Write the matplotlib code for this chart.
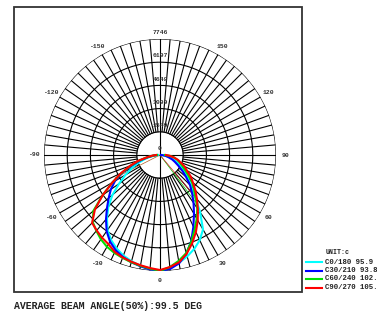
import numpy as np
import matplotlib
matplotlib.use("Agg")
import matplotlib.pyplot as plt
from matplotlib.patches import Rectangle

# --- DATA (cd), gamma 0..90 step 5 ---
GAMMA = list(range(0, 95, 5))
C0 = [7746, 7579, 7312, 7012, 6678, 6277, 5743, 4675, 3673, 2938, 2471, 2070, 1670, 1336, 1035, 735, 467, 267, 134]
C180 = [7746, 7646, 7513, 7346, 7145, 6878, 6544, 6110, 5509, 4875, 4140, 3339, 2671, 2070, 1536, 1068, 668, 334, 134]
C30 = [7746, 7646, 7346, 6812, 6110, 5276, 4541, 3907, 3339, 2838, 2271, 1803, 1402, 1102, 868, 601, 401, 200, 67]
C210 = [7746, 7680, 7546, 7413, 7246, 7012, 6678, 6211, 5610, 5009, 4474, 4007, 3473, 2738, 1937, 1336, 801, 401, 200]
C60 = [7746, 7513, 7179, 6778, 6144, 5476, 4908, 4341, 3673, 3205, 2771, 2270, 1870, 1603, 1369, 1169, 968, 668, 334]
C240 = [7746, 7613, 7513, 7413, 7312, 7212, 7079, 6878, 6611, 6344, 5810, 4675, 3673, 2805, 2070, 1469, 868, 467, 200]
C90 = [7680, 7513, 7279, 6845, 6277, 5676, 5042, 4407, 3840, 3339, 2872, 2504, 2070, 1803, 1469, 1235, 935, 668, 401]
C270 = [7680, 7580, 7479, 7379, 7279, 7145, 6878, 6745, 6578, 6411, 5676, 4675, 3673, 2872, 2137, 1536, 868, 534, 267]

PLANES = [
    ("C0/180 95.9", C0, C180, "#00ffff"),
    ("C30/210 93.8", C30, C210, "#0000ff"),
    ("C60/240 102.", C60, C240, "#00e000"),
    ("C90/270 105.", C90, C270, "#ff0000"),
]
# thin segments from the origin (angle deg, cd)
THIN = [(-63, 3370, "#b05a20"), (37, 3900, "#00c000"), (40, 3650, "#d02020")]

R_MAX = 7746
RINGS = [0, 1549, 3099, 4648, 6197, 7746]
ANGLE_LABELS = [-150, -120, -90, -60, -30, 0, 30, 60, 90, 120, 150]

W, H = 377, 313
fig = plt.figure(figsize=(W / 100, H / 100), dpi=100)
fig.patch.set_facecolor("white")

# frame
fig.patches.append(Rectangle((14 / W, (H - 292) / H), 288 / W, 285 / H,
                             transform=fig.transFigure, fill=False,
                             edgecolor="#333333", linewidth=1.3))

cx, cy, rad = 160, 155, 116
ax = fig.add_axes([(cx - rad) / W, (H - cy - rad) / H, 2 * rad / W, 2 * rad / H],
                  projection="polar")
ax.set_theta_zero_location("S")
ax.set_theta_direction(1)
ax.set_ylim(0, R_MAX)
ax.grid(False)
ax.set_xticks([])
ax.set_yticks([])
ax.spines["polar"].set_visible(False)
ax.patch.set_alpha(0)

gc = "black"
glw = 0.8
th = np.linspace(0, 2 * np.pi, 400)
for r in RINGS[1:]:
    ax.plot(th, np.full_like(th, r), color=gc, lw=glw, zorder=1)
for a in range(0, 360, 5):
    t = np.deg2rad(a)
    r0 = 0 if a % 90 == 0 else RINGS[1]
    ax.plot([t, t], [r0, R_MAX], color=gc, lw=glw, zorder=1)

lab_font = dict(family="Liberation Mono", fontweight="bold", fontsize=4.6, color="#333333")
for a in ANGLE_LABELS:
    ax.text(np.deg2rad(a), R_MAX * 1.08, str(a), ha="center", va="center",
            clip_on=False, **lab_font)
for r in RINGS:
    ax.text(np.pi, r + R_MAX * 0.055, str(r), ha="center", va="center",
            clip_on=False, zorder=2, **lab_font)

for name, right, left, col in PLANES:
    g = np.array(GAMMA, dtype=float)
    thetas = np.deg2rad(np.concatenate([-g[::-1], g[1:]]))
    vals = np.concatenate([np.array(left)[::-1], np.array(right)[1:]])
    ax.plot(thetas, vals, color=col, lw=1.5, zorder=4, label=name)

for a, v, col in THIN:
    ax.plot([0, np.deg2rad(a)], [0, v], color=col, lw=0.5, zorder=3)

# legend
fig.text(326 / W, 1 - 253 / H, "UNIT:c", family="Liberation Mono",
         fontweight="bold", fontsize=4.8, color="#222222", va="center")
for i, (name, _, _, col) in enumerate(PLANES):
    y = 1 - (262 + i * 8.5) / H
    fig.add_artist(plt.Line2D([306 / W, 322 / W], [y, y], color=col, lw=1.5,
                              transform=fig.transFigure))
    fig.text(325 / W, y, name, family="Liberation Mono", fontweight="bold",
             fontsize=5.3, color="#222222", va="center")

fig.text(14 / W, 1 - 306 / H, "AVERAGE BEAM ANGLE(50%):99.5 DEG",
         family="Liberation Mono", fontweight="bold", fontsize=7.1,
         color="#222222", va="center")

fig.savefig("out.png", dpi=100)
